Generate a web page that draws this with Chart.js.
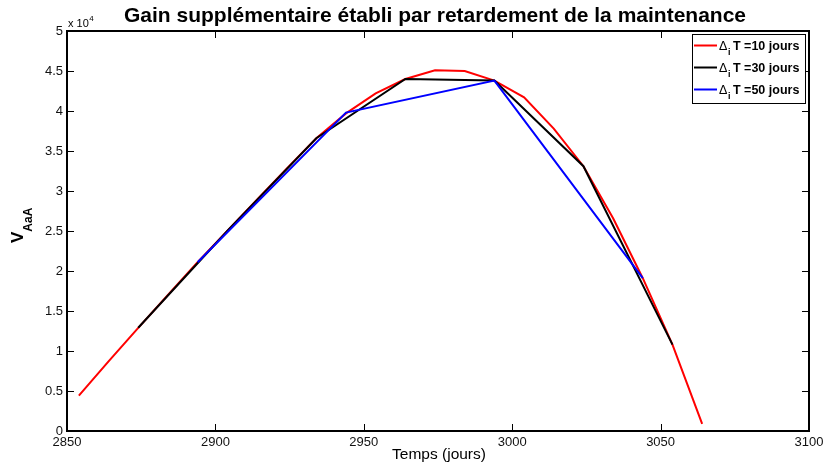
<!DOCTYPE html>
<html>
<head>
<meta charset="utf-8">
<script src="https://cdn.jsdelivr.net/npm/chart.js@4/dist/chart.umd.min.js"></script>
<style>
  html, body { margin: 0; padding: 0; background: #fff; }
  canvas { display: block; }
</style>
</head>
<body>
<canvas id="c" width="823" height="465"></canvas>
<script>
// Texts
const titleText = 'Gain supplémentaire établi par retardement de la maintenance';
const xTitle = 'Temps (jours)';
const yTitleMain = 'V';
const yTitleSub = 'AaA';
const yExponent = '4';

// Axis ticks
const xTicks = [2850, 2900, 2950, 3000, 3050, 3100];
const yTicks = [0, 5000, 10000, 15000, 20000, 25000, 30000, 35000, 40000, 45000, 50000];

// Series: step Δi T = 10 days
const t10 = [2854, 2864, 2874, 2884, 2894, 2904, 2914, 2924, 2934, 2944, 2954,
             2964, 2974, 2984, 2994, 3004, 3014, 3024, 3034, 3044, 3054, 3064];
const v10 = [4410, 8700, 12900, 17000, 21100, 25000, 28900, 32800, 36600, 39700, 42200,
             44000, 45100, 45000, 43800, 41700, 37800, 33100, 26600, 19100, 10800, 900];

// Series: step Δi T = 30 days
const t30 = [2874, 2904, 2934, 2964, 2994, 3024, 3054];
const v30 = [12900, 25000, 36600, 44000, 43800, 33100, 10800];

// Series: step Δi T = 50 days
const t50 = [2894, 2944, 2994, 3044];
const v50 = [21100, 39800, 43800, 19100];

const stepDays = [10, 30, 50];
const seriesColors = ['#ff0000', '#000000', '#0000ff'];

const FONT = '"Liberation Sans", Arial, Helvetica, sans-serif';

const toPoints = (ts, vs) => ts.map((t, i) => ({ x: t, y: vs[i] }));

const decorations = {
  id: 'decorations',
  afterDraw(chart) {
    const ctx = chart.ctx;
    const a = chart.chartArea;
    const xs = chart.scales.x, ys = chart.scales.y;
    ctx.save();

    // axes box
    ctx.strokeStyle = '#000';
    ctx.lineWidth = 2;
    ctx.strokeRect(a.left, a.top, a.right - a.left, a.bottom - a.top);

    // inward tick marks on all four sides
    ctx.lineWidth = 1;
    ctx.beginPath();
    xTicks.forEach(v => {
      const px = Math.round(xs.getPixelForValue(v)) + 0.5;
      ctx.moveTo(px, a.bottom); ctx.lineTo(px, a.bottom - 7);
      ctx.moveTo(px, a.top); ctx.lineTo(px, a.top + 7);
    });
    yTicks.forEach(v => {
      const py = Math.round(ys.getPixelForValue(v)) + 0.5;
      ctx.moveTo(a.left, py); ctx.lineTo(a.left + 7, py);
      ctx.moveTo(a.right, py); ctx.lineTo(a.right - 7, py);
    });
    ctx.stroke();

    ctx.fillStyle = '#000';

    // title
    ctx.font = 'bold 21px ' + FONT;
    ctx.textAlign = 'center';
    ctx.textBaseline = 'alphabetic';
    ctx.fillText(titleText, 435, 21.5);

    // x-axis title
    ctx.font = '15.5px ' + FONT;
    ctx.fillText(xTitle, 439, 458.5);

    // exponent marker
    ctx.textAlign = 'left';
    ctx.font = '11px ' + FONT;
    ctx.fillText('x 10', a.left + 1, 27);
    const mw = ctx.measureText('x 10').width;
    ctx.font = '8px ' + FONT;
    ctx.fillText(yExponent, a.left + 1.5 + mw, 20.5);

    // y-axis title with subscript
    ctx.save();
    ctx.translate(23, 243);
    ctx.rotate(-Math.PI / 2);
    ctx.font = 'bold 17px ' + FONT;
    ctx.fillText(yTitleMain, 0, 0);
    const vw = ctx.measureText(yTitleMain).width;
    ctx.font = 'bold 12px ' + FONT;
    ctx.fillText(yTitleSub, vw, 9);
    ctx.restore();

    // legend
    const lx = 692, ly = 34, lw = 113, lh = 69;
    ctx.fillStyle = '#fff';
    ctx.fillRect(lx, ly, lw, lh);
    ctx.strokeStyle = '#000';
    ctx.lineWidth = 1;
    ctx.strokeRect(lx + 0.5, ly + 0.5, lw, lh);
    stepDays.forEach((d, i) => {
      const cy = ly + 11.5 + i * 22;
      ctx.strokeStyle = seriesColors[i];
      ctx.lineWidth = 2;
      ctx.beginPath();
      ctx.moveTo(lx + 2, cy); ctx.lineTo(lx + 25, cy);
      ctx.stroke();
      ctx.fillStyle = '#000';
      ctx.textBaseline = 'alphabetic';
      ctx.font = '12.5px ' + FONT;
      ctx.fillText('Δ', lx + 27, cy + 4.5);
      ctx.font = 'bold 9px ' + FONT;
      ctx.fillText('i', lx + 36, cy + 9);
      ctx.font = 'bold 12.5px ' + FONT;
      ctx.fillText('T =' + d + ' jours', lx + 41, cy + 4.5);
    });

    ctx.restore();
  }
};

new Chart(document.getElementById('c'), {
  type: 'line',
  data: {
    datasets: [
      { label: 'ΔiT = ' + stepDays[0], data: toPoints(t10, v10), borderColor: seriesColors[0], order: 2 },
      { label: 'ΔiT = ' + stepDays[1], data: toPoints(t30, v30), borderColor: seriesColors[1], order: 1 },
      { label: 'ΔiT = ' + stepDays[2], data: toPoints(t50, v50), borderColor: seriesColors[2], order: 0 }
    ].map(ds => Object.assign(ds, {
      borderWidth: 2, pointRadius: 0, tension: 0, fill: false,
      borderJoinStyle: 'miter', backgroundColor: ds.borderColor
    }))
  },
  options: {
    responsive: false,
    animation: false,
    devicePixelRatio: 1,
    layout: { padding: { left: 0, top: 31, right: 14, bottom: 0 } },
    plugins: { legend: { display: false }, tooltip: { enabled: false }, title: { display: false } },
    scales: {
      x: {
        type: 'linear', min: xTicks[0], max: xTicks[xTicks.length - 1],
        afterBuildTicks: s => { s.ticks = xTicks.map(v => ({ value: v })); },
        afterFit: s => { s.height = 34; s.paddingLeft = 0; s.paddingRight = 0; },
        grid: { display: false, drawTicks: false },
        border: { display: false },
        ticks: { padding: 4, color: '#111', font: { family: FONT, size: 13 }, maxRotation: 0,
                 callback: v => String(v) }
      },
      y: {
        type: 'linear', min: yTicks[0], max: yTicks[yTicks.length - 1],
        afterBuildTicks: s => { s.ticks = yTicks.map(v => ({ value: v })); },
        afterFit: s => { s.width = 67; s.paddingTop = 0; s.paddingBottom = 0; },
        grid: { display: false, drawTicks: false },
        border: { display: false },
        ticks: { padding: 4, color: '#111', font: { family: FONT, size: 13 },
                 callback: v => String(v / 10000) }
      }
    }
  },
  plugins: [decorations]
});
</script>
</body>
</html>
